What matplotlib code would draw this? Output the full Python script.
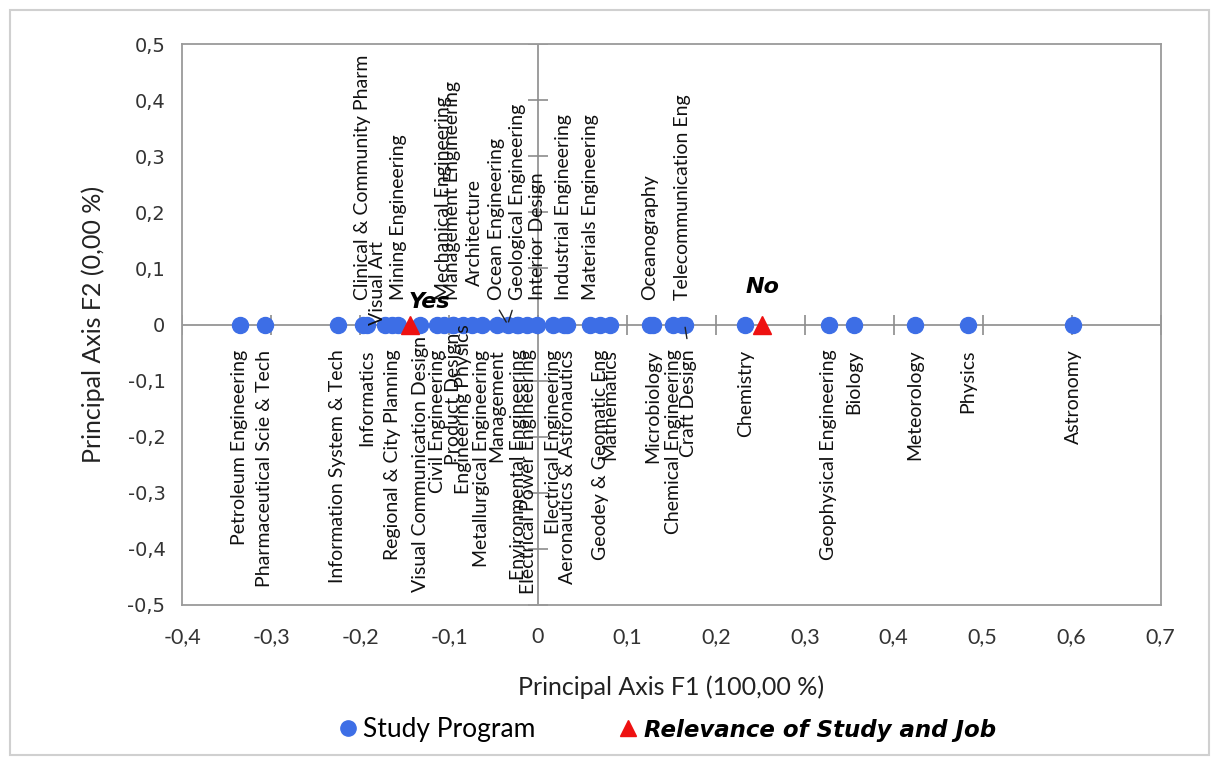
import matplotlib.pyplot as plt
from matplotlib.lines import Line2D
from matplotlib.patches import Rectangle

# Study programs on the first principal axis (F2 is zero for all of them)
labels_below = [
    "Petroleum Engineering", "Pharmaceutical Scie & Tech", "Information System & Tech",
    "Informatics", "Regional & City Planning", "Visual Communication Design",
    "Civil Engineering", "Product Design", "Engineering Physics",
    "Metallurgical Engineering", "Management", "Environmental Engineering",
    "Electrical Power Engineering", "Electrical Engineering", "Aeronautics & Astronautics",
    "Geodey & Geomatic Eng", "Mathematics", "Microbiology", "Chemical Engineering",
    "Craft Design", "Chemistry", "Geophysical Engineering", "Biology",
    "Meteorology", "Physics", "Astronomy",
]
f1_below = [
    -0.335, -0.307, -0.225, -0.192, -0.164, -0.132, -0.113, -0.095, -0.084,
    -0.063, -0.046, -0.022, -0.012, 0.017, 0.033, 0.070, 0.081, 0.129, 0.152,
    0.165, 0.233, 0.327, 0.355, 0.424, 0.483, 0.602,
]

labels_above = [
    "Clinical & Community Pharm", "Visual Art", "Mining Engineering",
    "Mechanical Engineering", "Management Engineering", "Architecture",
    "Ocean Engineering", "Geological Engineering", "Interior Design",
    "Industrial Engineering", "Materials Engineering", "Oceanography",
    "Telecommunication Eng",
]
f1_above = [
    -0.197, -0.172, -0.157, -0.106, -0.096, -0.074, -0.034, -0.023, -0.001,
    0.029, 0.059, 0.126, 0.162,
]

# Supplementary variable: relevance of study and job
relevance_labels = ["Yes", "No"]
relevance_f1 = [-0.144, 0.252]

# label shifts (points) where labels were nudged off their points
shift_below = {"Visual Communication Design": (0, 10), "Product Design": (0, 12),
               "Engineering Physics": (0, 18), "Craft Design": (3, 0),
               "Electrical Power Engineering": (1, 0)}
shift_above = {"Visual Art": (-5, -18), "Ocean Engineering": (-8, 0),
               "Architecture": (2, 10)}
relevance_offset = {"Yes": (14, 9), "No": (0, 20)}

blue = "#3d6ee6"
red = "#ee1111"
gray = "#8c8c8c"
label_font = "Lato"

plt.rcParams["font.family"] = ["Lato", "DejaVu Sans"]

fig = plt.figure(figsize=(12.14, 7.6), dpi=100)
ax = fig.add_axes([0.150, 0.204, 0.806, 0.738])

ax.set_xlim(-0.4, 0.7)
ax.set_ylim(-0.5, 0.5)

xticks = [round(-0.4 + 0.1 * i, 1) for i in range(12)]
yticks = [round(-0.5 + 0.1 * i, 1) for i in range(11)]


def comma(v):
    return "0" if abs(v) < 1e-9 else f"{v:.1f}".replace(".", ",")


ax.set_xticks(xticks)
ax.set_yticks(yticks)
ax.set_xticklabels([comma(v) for v in xticks], fontfamily=label_font, fontsize=15.5)
ax.set_yticklabels([comma(v) for v in yticks], fontfamily="DejaVu Sans", fontsize=14)
ax.tick_params(length=0, pad=12, colors="#333333")
ax.tick_params(axis="x", pad=16)
for sp in ax.spines.values():
    sp.set_color("#9a9a9a")
    sp.set_linewidth(1.3)

# axes crossing at the origin with small cross ticks
ax.axhline(0, color=gray, lw=1.2, zorder=1)
ax.axvline(0, color=gray, lw=1.2, zorder=1)
ax.plot(xticks, [0] * len(xticks), ls="none", marker="|", ms=14, mew=1.2, color=gray, zorder=1)
ax.plot([0] * len(yticks), yticks, ls="none", marker="_", ms=14, mew=1.2, color=gray, zorder=1)

all_f1 = f1_below + f1_above
ax.plot(all_f1, [0] * len(all_f1), ls="none", marker="o", ms=11.5, color=blue, zorder=3)
ax.plot(relevance_f1, [0] * len(relevance_f1), ls="none", marker="^", ms=13,
        color=red, zorder=4)

for name, x in zip(labels_below, f1_below):
    dx, dy = shift_below.get(name, (0, 0))
    ax.annotate(name, (x, 0), xytext=(dx, -18 + dy), textcoords="offset points",
                rotation=90, ha="center", va="top", fontsize=14,
                fontfamily=label_font, color="#111111", zorder=5)

for name, x in zip(labels_above, f1_above):
    dx, dy = shift_above.get(name, (0, 0))
    ax.annotate(name, (x, 0), xytext=(dx, 18 + dy), textcoords="offset points",
                rotation=90, ha="center", va="bottom", fontsize=14,
                fontfamily=label_font, color="#111111", zorder=5)

# leader lines for the displaced labels
ax.annotate("", (-0.034, 0), xytext=(-0.045, 0.03),
            arrowprops=dict(arrowstyle="-", color="#222222", lw=1))
ax.annotate("", (-0.034, 0), xytext=(-0.028, 0.03),
            arrowprops=dict(arrowstyle="-", color="#222222", lw=1))
ax.annotate("", (0.165, 0), xytext=(0.168, -0.03),
            arrowprops=dict(arrowstyle="-", color="#222222", lw=1))

for name, x in zip(relevance_labels, relevance_f1):
    ax.annotate(name, (x, 0), xytext=relevance_offset[name],
                textcoords="offset points", ha="center", va="bottom",
                fontsize=16, fontweight="bold", fontstyle="italic",
                fontfamily="DejaVu Sans", zorder=6)

ax.set_xlabel("Principal Axis F1 (100,00 %)", fontsize=18, fontfamily=label_font,
              color="#222222", labelpad=20)
ax.set_ylabel("Principal Axis F2 (0,00 %)", fontsize=18, fontfamily=label_font,
              color="#222222", labelpad=16)

handles = [
    Line2D([], [], ls="none", marker="o", ms=11, color=blue, label="Study Program"),
    Line2D([], [], ls="none", marker="^", ms=12, color=red, label="Relevance of Study and Job"),
]
leg = fig.legend(handles=handles, loc="center", bbox_to_anchor=(0.548, 0.04), ncol=2,
                 frameon=False, fontsize=19, handletextpad=0.1, columnspacing=3.0,
                 handlelength=1.0)
leg.get_texts()[0].set_fontfamily(label_font)
leg.get_texts()[1].set_fontfamily("DejaVu Sans")
leg.get_texts()[1].set_fontweight("bold")
leg.get_texts()[1].set_fontstyle("italic")
leg.get_texts()[1].set_fontsize(16.5)

# outer chart border
fig.patches.append(Rectangle((0.008, 0.006), 0.988, 0.981, transform=fig.transFigure,
                             fill=False, edgecolor="#d0d0d0", lw=1.5))

fig.savefig("out.png", dpi=100)
